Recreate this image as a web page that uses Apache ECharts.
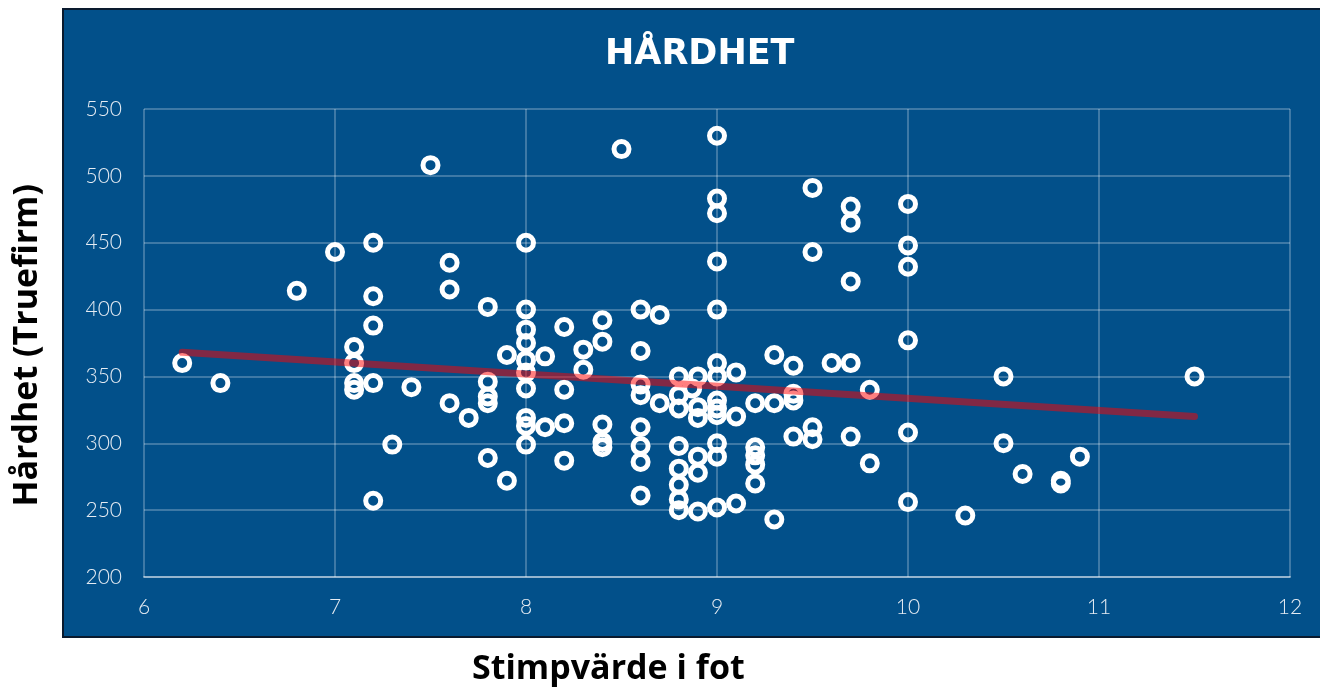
<!DOCTYPE html>
<html>
<head>
<meta charset="utf-8">
<title>Hårdhet</title>
<script src="https://cdn.jsdelivr.net/npm/echarts@6/dist/echarts.min.js"></script>
<style>
  html, body { margin: 0; padding: 0; background: #ffffff; }
  #chart { width: 1320px; height: 700px; }
</style>
</head>
<body>
<div id="chart"></div>
<script>
// stimpvärde (fot) och hårdhet (Truefirm)
var stimp = [
  6.2, 6.4, 6.8, 7.0, 7.1, 7.1, 7.1, 7.1, 7.2, 7.2, 7.2, 7.2, 7.2, 7.3, 7.4, 7.5,
  7.6, 7.6, 7.6, 7.7, 7.8, 7.8, 7.8, 7.8, 7.8, 7.9, 7.9,
  8.0, 8.0, 8.0, 8.0, 8.0, 8.0, 8.0, 8.0, 8.0, 8.0, 8.1, 8.1,
  8.2, 8.2, 8.2, 8.2, 8.3, 8.3, 8.4, 8.4, 8.4, 8.4, 8.4, 8.5,
  8.6, 8.6, 8.6, 8.6, 8.6, 8.6, 8.6, 8.6, 8.7, 8.7,
  8.8, 8.8, 8.8, 8.8, 8.8, 8.8, 8.8, 8.8,
  8.87, 8.9, 8.9, 8.9, 8.9, 8.9, 8.9,
  9.0, 9.0, 9.0, 9.0, 9.0, 9.0, 9.0, 9.0, 9.0, 9.0, 9.0, 9.0, 9.0,
  9.1, 9.1, 9.1, 9.2, 9.2, 9.2, 9.2, 9.2, 9.3, 9.3, 9.3,
  9.4, 9.4, 9.4, 9.4, 9.5, 9.5, 9.5, 9.5, 9.6,
  9.7, 9.7, 9.7, 9.7, 9.7, 9.8, 9.8,
  10.0, 10.0, 10.0, 10.0, 10.0, 10.0, 10.3, 10.5, 10.5, 10.6,
  10.8, 10.8, 10.9, 11.5
];
var hardhet = [
  360, 345, 414, 443, 372, 360, 345, 340, 450, 410, 388, 345, 257, 299, 342, 508,
  435, 415, 330, 319, 402, 346, 335, 330, 289, 366, 272,
  450, 400, 385, 375, 362, 353, 341, 319, 313, 299, 365, 312,
  387, 340, 315, 287, 370, 355, 392, 376, 314, 301, 297, 520,
  400, 369, 344, 336, 312, 298, 286, 261, 396, 330,
  350, 336, 326, 298, 281, 269, 258, 250,
  341, 350, 327, 319, 290, 278, 249,
  530, 483, 472, 436, 400, 360, 350, 332, 326, 321, 300, 290, 252,
  353, 320, 255, 330, 297, 291, 284, 270, 366, 330, 243,
  358, 337, 332, 305, 491, 443, 312, 303, 360,
  477, 465, 421, 360, 305, 340, 285,
  479, 448, 432, 377, 308, 256, 246, 350, 300, 277,
  272, 270, 290, 350
];
// trendlinjens ändpunkter
var trendX = [6.2, 11.5];
var trendY = [368, 320];

var points = [];
for (var i = 0; i < stimp.length; i++) {
  points.push([stimp[i], hardhet[i]]);
}
var trend = [];
for (var j = 0; j < trendX.length; j++) {
  trend.push([trendX[j], trendY[j]]);
}

var myChart = echarts.init(document.getElementById("chart"));
var gridLine = { color: "rgba(255,255,255,0.32)", width: 1.5 };
var nameFont = "bold 34px 'Open Sans', Lato, sans-serif";
var option = {
  backgroundColor: "#ffffff",
  animation: false,
  graphic: [
    {
      type: "rect",
      z: -100,
      shape: { x: 63, y: 9, width: 1270, height: 628 },
      style: { fill: "#02508a", stroke: "#0a1a2e", lineWidth: 2 }
    },
    {
      type: "text",
      left: 472,
      top: 652,
      style: {
        text: "Stimpvärde i fot",
        font: nameFont,
        fill: "#000000"
      }
    },
    {
      type: "text",
      left: 10,
      top: 184,
      rotation: Math.PI / 2,
      style: {
        text: "Hårdhet (Truefirm)",
        font: nameFont,
        fill: "#000000"
      }
    }
  ],
  title: {
    text: "HÅRDHET",
    left: 600,
    top: 32,
    textStyle: {
      color: "#ffffff",
      fontFamily: "DejaVu Sans",
      fontWeight: "bold",
      fontSize: 35
    }
  },
  grid: {
    left: 144,
    right: 30,
    top: 109,
    bottom: 123
  },
  xAxis: {
    type: "value",
    min: 6,
    max: 12,
    interval: 1,
    axisLine: { show: true, lineStyle: { color: "rgba(255,255,255,0.45)", width: 2 } },
    axisTick: { show: false },
    axisLabel: {
      color: "#e6ecf3",
      fontFamily: "Lato",
      fontWeight: 300,
      fontSize: 21,
      margin: 20
    },
    splitLine: { show: true, lineStyle: gridLine }
  },
  yAxis: {
    type: "value",
    min: 200,
    max: 550,
    interval: 50,
    axisLine: { show: false },
    axisTick: { show: false },
    axisLabel: {
      color: "#e6ecf3",
      fontFamily: "Lato",
      fontWeight: 300,
      fontSize: 21,
      margin: 22
    },
    splitLine: { show: true, lineStyle: gridLine }
  },
  series: [
    {
      name: "Hårdhet",
      type: "scatter",
      data: points,
      symbol: "circle",
      symbolSize: 15,
      itemStyle: {
        color: "rgba(0,0,0,0)",
        borderColor: "#ffffff",
        borderWidth: 5,
        opacity: 1
      },
      z: 2
    },
    {
      name: "Trend",
      type: "line",
      data: trend,
      symbol: "none",
      lineStyle: { color: "#ff0000", width: 7, opacity: 0.5, cap: "round" },
      z: 3
    }
  ]
};
myChart.setOption(option);
window.addEventListener("resize", function() {
  myChart.resize();
});
</script>
</body>
</html>
